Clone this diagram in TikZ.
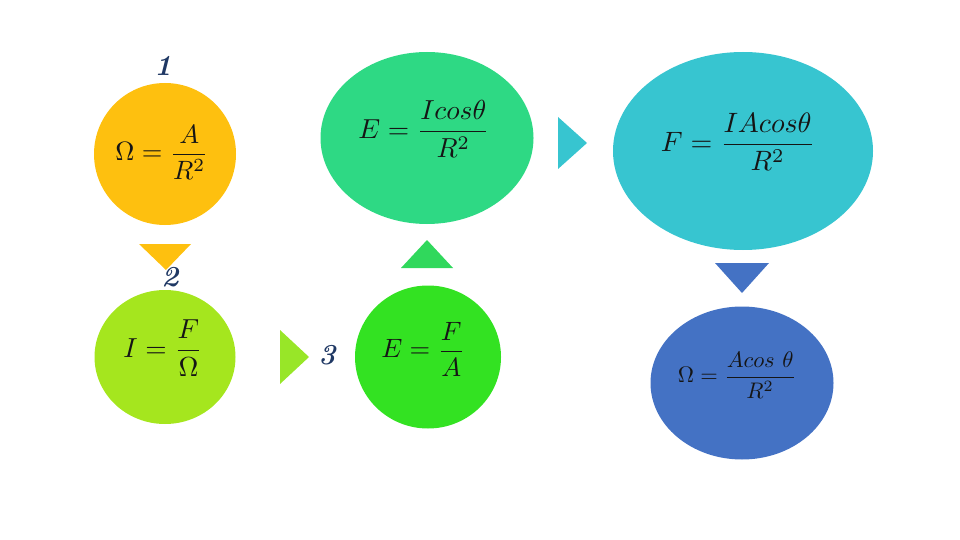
\documentclass[tikz,border=0pt]{standalone}
\usepackage{amsmath}
\usetikzlibrary{shapes.geometric}
\definecolor{corange}{HTML}{FEC00F}
\definecolor{clime}{HTML}{A5E61E}
\definecolor{climetri}{HTML}{98E628}
\definecolor{cgreen}{HTML}{33E222}
\definecolor{cgreentri}{HTML}{30D85C}
\definecolor{cmint}{HTML}{2ED984}
\definecolor{ccyan}{HTML}{37C5D0}
\definecolor{cblue}{HTML}{4472C4}
\definecolor{eqcol}{HTML}{151515}
\definecolor{numcol}{HTML}{1F3864}
\begin{document}
\begin{tikzpicture}[x=1pt,y=-1pt,
  blob/.style={ellipse, inner sep=0pt, draw=none},
  eq/.style={text=eqcol, inner sep=0pt, transform shape},
  num/.style={text=numcol, inner sep=0pt, scale=2.9, transform shape, font=\bfseries\itshape},
  tri/.style={draw=none}]
\useasboundingbox (0,0) rectangle (960,540);
% ellipses
\node[blob, fill=corange, minimum width=142, minimum height=142] (e1) at (165,154) {};
\node[blob, fill=clime,   minimum width=141, minimum height=134] (e2) at (165,357) {};
\node[blob, fill=cgreen,  minimum width=146, minimum height=143] (e3) at (428,357) {};
\node[blob, fill=cmint,   minimum width=213, minimum height=172] (e4) at (427,138) {};
\node[blob, fill=ccyan,   minimum width=260, minimum height=198] (e5) at (743,151) {};
\node[blob, fill=cblue,   minimum width=183, minimum height=153] (e6) at (742,383) {};
% equations
\node[eq, scale=2.65] (t1) at (162,152) {$\Omega = \dfrac{A}{R^2}$};
\node[eq, scale=2.75] (t2) at (163,348) {$I = \dfrac{F}{\Omega}$};
\node[eq, scale=2.65] (t3) at (423,349) {$E = \dfrac{F}{A}$};
\node[eq, scale=2.75] (t4) at (424,129) {$E = \dfrac{I cos\theta}{R^2}$};
\node[eq, scale=2.8] (t5) at (738,142) {$F = \dfrac{I A cos\theta}{R^2}$};
\node[eq, scale=2.25] (t6) at (737,375) {$\Omega = \dfrac{A cos\ \theta}{R^2}$};
% triangles
\fill[corange, tri] (139,244) -- (191,244) -- (166,270) -- cycle;
\fill[climetri, tri] (280,330) -- (309,357) -- (280,384) -- cycle;
\fill[cgreentri, tri] (401,268) -- (453,268) -- (427,240) -- cycle;
\fill[ccyan, tri] (558,117) -- (587,143) -- (558,169) -- cycle;
\fill[cblue, tri] (715,263) -- (769,263) -- (742,293) -- cycle;
% numbers
\node[num] (n1) at (163,66) {1};
\node[num] (n2) at (170,277) {2};
\node[num] (n3) at (327,355) {3};
\end{tikzpicture}
\end{document}
